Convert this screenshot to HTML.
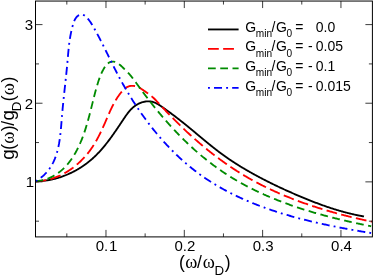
<!DOCTYPE html>
<html><head><meta charset="utf-8"><title>chart</title>
<style>html,body{margin:0;padding:0;background:#fff;}body{width:374px;height:276px;position:relative;overflow:hidden;font-family:"Liberation Sans",sans-serif;}</style>
</head><body>
<svg width="374" height="276" viewBox="0 0 374 276" style="position:absolute;left:0;top:0">
<rect width="374" height="276" fill="#ffffff"/>
<g fill="none" stroke-width="1.85" stroke-linejoin="round">
<path d="M35.50 181.30L36.16 181.29L36.82 181.28L37.47 181.26L38.13 181.24L38.79 181.21L39.45 181.18L40.10 181.14L40.76 181.09L41.41 181.04L42.07 180.98L42.72 180.92L43.38 180.85L44.03 180.78L44.68 180.70L45.33 180.62L45.98 180.53L46.64 180.43L47.29 180.33L47.93 180.23L48.58 180.12L49.23 180.00L49.88 179.88L50.52 179.76L51.17 179.63L51.81 179.49L52.45 179.35L53.09 179.20L53.73 179.05L54.37 178.89L55.01 178.73L55.65 178.57L56.28 178.40L56.92 178.22L57.55 178.04L58.18 177.85L58.81 177.66L59.44 177.47L60.07 177.26L60.69 177.06L61.32 176.85L61.94 176.63L62.56 176.42L63.18 176.19L63.80 175.96L64.42 175.73L65.03 175.49L65.65 175.25L66.26 175.00L66.87 174.75L67.47 174.49L68.08 174.23L68.68 173.97L69.29 173.70L69.89 173.42L70.48 173.14L71.08 172.86L71.67 172.57L72.27 172.28L72.86 171.99L73.44 171.69L74.03 171.38L74.61 171.07L75.19 170.76L75.77 170.44L76.35 170.12L76.92 169.80L77.50 169.47L78.06 169.13L78.63 168.80L79.20 168.46L79.76 168.11L80.32 167.76L80.87 167.41L81.43 167.05L81.98 166.69L82.53 166.32L83.07 165.95L83.62 165.58L84.16 165.20L84.70 164.82L85.23 164.44L85.76 164.05L86.29 163.66L86.82 163.27L87.34 162.87L87.86 162.46L88.38 162.06L88.89 161.65L89.40 161.23L89.91 160.82L90.41 160.40L90.92 159.97L91.41 159.55L91.91 159.11L92.40 158.68L92.89 158.24L93.37 157.80L93.85 157.36L94.33 156.91L94.81 156.46L95.28 156.01L95.75 155.55L96.22 155.09L96.68 154.63L97.14 154.16L97.60 153.69L98.05 153.22L98.51 152.75L98.96 152.27L99.40 151.79L99.85 151.31L100.29 150.82L100.73 150.34L101.17 149.85L101.60 149.35L102.03 148.86L102.46 148.36L102.89 147.86L103.31 147.36L103.74 146.86L104.16 146.35L104.58 145.84L104.99 145.33L105.41 144.82L105.82 144.30L106.23 143.79L106.64 143.27L107.05 142.75L107.45 142.23L107.85 141.71L108.26 141.18L108.66 140.65L109.05 140.13L109.45 139.60L109.85 139.07L110.24 138.53L110.63 138.00L111.02 137.46L111.41 136.93L111.80 136.39L112.19 135.85L112.57 135.31L112.96 134.77L113.34 134.23L113.72 133.68L114.10 133.14L114.48 132.59L114.86 132.05L115.24 131.50L115.62 130.95L115.99 130.41L116.37 129.86L116.74 129.31L117.12 128.76L117.49 128.21L117.86 127.66L118.24 127.10L118.61 126.55L118.98 126.00L119.35 125.45L119.72 124.90L120.09 124.34L120.46 123.79L120.83 123.24L121.20 122.68L121.57 122.13L121.94 121.58L122.31 121.03L122.68 120.47L123.05 119.92L123.42 119.37L123.79 118.82L124.16 118.27L124.53 117.72L124.90 117.17L125.27 116.62L125.65 116.08L126.03 115.54L126.41 115.00L126.80 114.47L127.19 113.94L127.58 113.42L127.98 112.90L128.38 112.39L128.79 111.88L129.21 111.38L129.63 110.88L130.06 110.40L130.49 109.92L130.94 109.45L131.39 108.99L131.85 108.53L132.31 108.09L132.79 107.65L133.28 107.23L133.78 106.82L134.29 106.42L134.80 106.03L135.33 105.65L135.88 105.28L136.43 104.93L136.99 104.59L137.57 104.26L138.15 103.95L138.75 103.66L139.35 103.38L139.96 103.11L140.57 102.86L141.19 102.63L141.82 102.42L142.45 102.22L143.09 102.04L143.73 101.88L144.37 101.74L145.02 101.62L145.67 101.52L146.32 101.45L146.97 101.39L147.62 101.35L148.27 101.34L148.91 101.35L149.56 101.38L150.20 101.44L150.84 101.52L151.48 101.62L152.11 101.75L152.74 101.91L153.36 102.09L153.97 102.29L154.58 102.52L155.18 102.76L155.77 103.03L156.36 103.32L156.93 103.62L157.50 103.94L158.07 104.27L158.63 104.61L159.18 104.96L159.73 105.33L160.28 105.70L160.82 106.07L161.36 106.45L161.90 106.83L162.44 107.21L162.98 107.59L163.52 107.97L164.06 108.35L164.59 108.73L165.13 109.11L165.67 109.50L166.20 109.88L166.74 110.26L167.27 110.65L167.80 111.04L168.33 111.42L168.87 111.81L169.40 112.20L169.93 112.59L170.46 112.98L170.99 113.37L171.51 113.76L172.04 114.15L172.57 114.54L173.09 114.94L173.62 115.33L174.14 115.73L174.67 116.12L175.19 116.52L175.72 116.92L176.24 117.31L176.76 117.71L177.28 118.11L177.80 118.51L178.32 118.92L178.84 119.32L179.36 119.72L179.87 120.13L180.39 120.53L180.91 120.94L181.42 121.35L181.94 121.75L182.45 122.16L182.97 122.57L183.48 122.98L183.99 123.39L184.50 123.81L185.02 124.22L185.53 124.63L186.04 125.05L186.55 125.46L187.06 125.88L187.57 126.29L188.07 126.71L188.58 127.13L189.09 127.54L189.60 127.96L190.11 128.38L190.61 128.80L191.12 129.22L191.63 129.64L192.13 130.06L192.64 130.48L193.14 130.90L193.65 131.32L194.15 131.74L194.66 132.16L195.16 132.58L195.67 133.00L196.17 133.42L196.68 133.84L197.18 134.26L197.68 134.68L198.19 135.10L198.69 135.52L199.20 135.94L199.70 136.36L200.20 136.78L200.71 137.20L201.21 137.62L201.71 138.04L202.22 138.46L202.72 138.88L203.23 139.30L203.73 139.72L204.23 140.13L204.74 140.55L205.24 140.97L205.75 141.38L206.25 141.80L206.76 142.21L207.26 142.63L207.77 143.04L208.28 143.45L208.78 143.86L209.29 144.27L209.80 144.68L210.30 145.09L210.81 145.50L211.32 145.91L211.83 146.32L212.34 146.72L212.85 147.13L213.36 147.53L213.87 147.94L214.38 148.34L214.89 148.74L215.40 149.14L215.91 149.54L216.42 149.93L216.94 150.33L217.45 150.73L217.96 151.12L218.48 151.51L218.99 151.90L219.51 152.29L220.03 152.68L220.55 153.07L221.06 153.45L221.58 153.84L222.10 154.22L222.62 154.60L223.14 154.98L223.67 155.36L224.19 155.73L224.71 156.11L225.24 156.48L225.76 156.85L226.29 157.22L226.82 157.59L227.34 157.96L227.87 158.32L228.40 158.69L228.93 159.05L229.46 159.41L229.99 159.77L230.53 160.13L231.06 160.48L231.59 160.84L232.13 161.19L232.66 161.54L233.20 161.89L233.74 162.24L234.27 162.59L234.81 162.94L235.35 163.28L235.89 163.63L236.43 163.97L236.97 164.31L237.52 164.65L238.06 164.99L238.60 165.33L239.15 165.67L239.69 166.00L240.24 166.34L240.79 166.67L241.33 167.01L241.88 167.34L242.43 167.67L242.98 168.00L243.53 168.32L244.08 168.65L244.64 168.98L245.19 169.30L245.74 169.63L246.30 169.95L246.85 170.27L247.41 170.59L247.96 170.91L248.52 171.23L249.08 171.55L249.64 171.87L250.20 172.19L250.76 172.50L251.32 172.82L251.88 173.13L252.44 173.45L253.00 173.76L253.57 174.07L254.13 174.38L254.70 174.69L255.26 175.00L255.83 175.31L256.40 175.62L256.96 175.92L257.53 176.23L258.10 176.54L258.67 176.84L259.24 177.14L259.81 177.45L260.38 177.75L260.96 178.05L261.53 178.35L262.10 178.65L262.68 178.95L263.25 179.25L263.83 179.55L264.40 179.84L264.98 180.14L265.56 180.44L266.14 180.73L266.71 181.02L267.29 181.32L267.87 181.61L268.45 181.90L269.03 182.19L269.62 182.48L270.20 182.77L270.78 183.06L271.36 183.35L271.95 183.64L272.53 183.92L273.12 184.21L273.70 184.49L274.29 184.78L274.88 185.06L275.46 185.34L276.05 185.63L276.64 185.91L277.23 186.19L277.82 186.47L278.41 186.75L279.00 187.03L279.59 187.30L280.18 187.58L280.77 187.86L281.37 188.13L281.96 188.41L282.55 188.68L283.15 188.96L283.74 189.23L284.34 189.50L284.93 189.77L285.53 190.05L286.13 190.32L286.72 190.59L287.32 190.86L287.92 191.12L288.52 191.39L289.12 191.66L289.72 191.93L290.32 192.19L290.92 192.46L291.52 192.72L292.12 192.99L292.72 193.25L293.32 193.51L293.93 193.77L294.53 194.04L295.13 194.30L295.74 194.56L296.34 194.82L296.95 195.08L297.55 195.33L298.16 195.59L298.76 195.85L299.37 196.11L299.98 196.36L300.58 196.62L301.19 196.87L301.80 197.13L302.41 197.38L303.02 197.63L303.63 197.89L304.24 198.14L304.85 198.39L305.46 198.64L306.07 198.89L306.68 199.14L307.29 199.38L307.90 199.63L308.51 199.88L309.13 200.12L309.74 200.37L310.35 200.61L310.97 200.85L311.58 201.09L312.20 201.34L312.81 201.58L313.43 201.81L314.05 202.05L314.66 202.29L315.28 202.53L315.90 202.76L316.51 202.99L317.13 203.23L317.75 203.46L318.37 203.69L318.99 203.92L319.61 204.15L320.23 204.38L320.85 204.60L321.47 204.83L322.09 205.05L322.71 205.28L323.33 205.50L323.96 205.72L324.58 205.94L325.20 206.16L325.83 206.37L326.45 206.59L327.08 206.80L327.70 207.02L328.33 207.23L328.95 207.44L329.58 207.65L330.20 207.85L330.83 208.06L331.46 208.26L332.09 208.47L332.71 208.67L333.34 208.87L333.97 209.07L334.60 209.27L335.23 209.46L335.86 209.66L336.49 209.85L337.12 210.04L337.75 210.23L338.39 210.42L339.02 210.61L339.65 210.79L340.28 210.97L340.92 211.16L341.55 211.34L342.19 211.51L342.82 211.69L343.46 211.87L344.09 212.04L344.73 212.21L345.36 212.38L346.00 212.55L346.64 212.71L347.28 212.88L347.91 213.04L348.55 213.20L349.19 213.36L349.83 213.52L350.47 213.67L351.11 213.82L351.75 213.97L352.39 214.12L353.03 214.27L353.67 214.42L354.32 214.56L354.96 214.70L355.60 214.84L356.24 214.98L356.89 215.11L357.53 215.24L358.18 215.38L358.82 215.50L359.47 215.63L360.11 215.76L360.76 215.88L361.41 216.00L362.05 216.12L362.70 216.23L363.35 216.35L364.00 216.46" stroke="#000000"/>
<path d="M35.50 181.30L36.24 181.28L36.98 181.25L37.72 181.21L38.45 181.16L39.19 181.10L39.92 181.03L40.65 180.96L41.37 180.87L42.10 180.78L42.82 180.68L43.54 180.57L44.25 180.45L44.96 180.32L45.68 180.19L46.38 180.04L47.09 179.89L47.79 179.73L48.49 179.56L49.19 179.38L49.88 179.20L50.58 179.01L51.27 178.81L51.95 178.60L52.63 178.38L53.31 178.16L53.99 177.93L54.67 177.69L55.34 177.45L56.01 177.19L56.67 176.93L57.33 176.66L57.99 176.39L58.65 176.11L59.30 175.82L59.95 175.53L60.59 175.22L61.24 174.92L61.88 174.60L62.51 174.28L63.14 173.95L63.77 173.62L64.40 173.28L65.02 172.93L65.64 172.58L66.25 172.22L66.86 171.85L67.47 171.48L68.07 171.10L68.67 170.72L69.27 170.33L69.86 169.94L70.45 169.54L71.03 169.13L71.62 168.72L72.19 168.30L72.77 167.88L73.33 167.45L73.90 167.02L74.46 166.58L75.02 166.14L75.57 165.69L76.12 165.24L76.66 164.79L77.20 164.32L77.74 163.86L78.27 163.39L78.80 162.91L79.32 162.43L79.84 161.95L80.36 161.46L80.87 160.97L81.37 160.47L81.87 159.97L82.37 159.47L82.86 158.96L83.35 158.45L83.83 157.93L84.31 157.41L84.78 156.89L85.25 156.36L85.72 155.83L86.18 155.29L86.63 154.76L87.08 154.22L87.53 153.67L87.97 153.13L88.40 152.58L88.83 152.02L89.26 151.47L89.68 150.91L90.09 150.35L90.50 149.79L90.91 149.22L91.31 148.65L91.70 148.08L92.09 147.51L92.48 146.93L92.86 146.35L93.23 145.77L93.61 145.19L93.97 144.60L94.34 144.01L94.70 143.42L95.05 142.83L95.40 142.24L95.75 141.64L96.09 141.04L96.43 140.44L96.77 139.84L97.10 139.24L97.43 138.63L97.76 138.03L98.09 137.42L98.41 136.81L98.72 136.19L99.04 135.58L99.35 134.96L99.66 134.35L99.97 133.73L100.27 133.11L100.58 132.49L100.88 131.86L101.17 131.24L101.47 130.61L101.76 129.99L102.06 129.36L102.35 128.73L102.64 128.10L102.92 127.47L103.21 126.84L103.49 126.21L103.78 125.57L104.06 124.94L104.34 124.30L104.62 123.66L104.90 123.03L105.18 122.39L105.46 121.75L105.74 121.11L106.01 120.47L106.29 119.83L106.57 119.19L106.84 118.55L107.12 117.91L107.40 117.26L107.68 116.62L107.95 115.98L108.23 115.34L108.51 114.69L108.80 114.05L109.08 113.41L109.36 112.77L109.65 112.13L109.94 111.49L110.23 110.85L110.53 110.21L110.82 109.57L111.12 108.93L111.43 108.30L111.73 107.66L112.04 107.03L112.36 106.39L112.68 105.76L113.00 105.13L113.33 104.50L113.66 103.88L114.00 103.25L114.34 102.63L114.69 102.01L115.04 101.39L115.40 100.77L115.76 100.15L116.14 99.54L116.51 98.93L116.90 98.32L117.29 97.72L117.69 97.11L118.10 96.51L118.51 95.92L118.93 95.32L119.36 94.73L119.80 94.14L120.24 93.56L120.70 92.98L121.16 92.40L121.64 91.83L122.12 91.27L122.61 90.73L123.12 90.20L123.63 89.68L124.15 89.19L124.69 88.72L125.24 88.28L125.80 87.86L126.37 87.48L126.96 87.13L127.55 86.81L128.17 86.54L128.79 86.30L129.43 86.11L130.09 85.96L130.75 85.87L131.43 85.81L132.12 85.80L132.81 85.82L133.51 85.89L134.21 85.99L134.92 86.13L135.62 86.30L136.32 86.50L137.01 86.73L137.70 87.00L138.38 87.28L139.04 87.60L139.69 87.93L140.34 88.29L140.96 88.66L141.58 89.05L142.19 89.45L142.80 89.86L143.40 90.27L143.99 90.69L144.59 91.10L145.18 91.52L145.77 91.93L146.35 92.35L146.94 92.76L147.52 93.18L148.09 93.59L148.66 94.01L149.23 94.44L149.80 94.86L150.36 95.30L150.91 95.74L151.46 96.18L152.00 96.63L152.54 97.09L153.07 97.55L153.59 98.03L154.11 98.51L154.62 99.01L155.12 99.51L155.62 100.02L156.12 100.53L156.61 101.05L157.09 101.57L157.58 102.10L158.07 102.63L158.55 103.15L159.04 103.68L159.52 104.21L160.01 104.74L160.49 105.26L160.98 105.79L161.47 106.31L161.96 106.84L162.44 107.36L162.93 107.88L163.42 108.40L163.91 108.92L164.40 109.44L164.90 109.96L165.39 110.48L165.88 111.00L166.37 111.52L166.87 112.04L167.36 112.55L167.86 113.07L168.35 113.58L168.85 114.10L169.34 114.61L169.84 115.12L170.34 115.63L170.84 116.14L171.34 116.65L171.84 117.16L172.34 117.67L172.84 118.18L173.34 118.69L173.84 119.19L174.34 119.70L174.85 120.20L175.35 120.71L175.86 121.21L176.36 121.71L176.87 122.21L177.37 122.71L177.88 123.21L178.39 123.71L178.90 124.21L179.41 124.71L179.92 125.21L180.43 125.70L180.94 126.20L181.45 126.69L181.96 127.18L182.48 127.67L182.99 128.17L183.50 128.66L184.02 129.15L184.54 129.63L185.05 130.12L185.57 130.61L186.09 131.09L186.61 131.58L187.13 132.06L187.65 132.55L188.17 133.03L188.69 133.51L189.21 133.99L189.73 134.47L190.26 134.95L190.78 135.42L191.31 135.90L191.83 136.37L192.36 136.85L192.89 137.32L193.41 137.79L193.94 138.27L194.47 138.74L195.00 139.21L195.53 139.67L196.07 140.14L196.60 140.61L197.13 141.07L197.67 141.54L198.20 142.00L198.74 142.46L199.27 142.92L199.81 143.38L200.35 143.84L200.89 144.30L201.43 144.76L201.97 145.21L202.51 145.67L203.05 146.12L203.59 146.57L204.14 147.03L204.68 147.48L205.23 147.93L205.77 148.37L206.32 148.82L206.87 149.27L207.41 149.71L207.96 150.16L208.51 150.60L209.06 151.04L209.62 151.48L210.17 151.92L210.72 152.36L211.28 152.79L211.83 153.23L212.39 153.66L212.94 154.10L213.50 154.53L214.06 154.96L214.62 155.39L215.18 155.82L215.74 156.24L216.30 156.67L216.87 157.10L217.43 157.52L217.99 157.94L218.56 158.36L219.13 158.78L219.69 159.20L220.26 159.62L220.83 160.04L221.40 160.45L221.97 160.86L222.54 161.28L223.11 161.69L223.69 162.10L224.26 162.51L224.84 162.91L225.41 163.32L225.99 163.72L226.57 164.13L227.15 164.53L227.73 164.93L228.31 165.33L228.89 165.73L229.47 166.12L230.06 166.52L230.64 166.91L231.23 167.31L231.81 167.70L232.40 168.09L232.99 168.48L233.58 168.86L234.17 169.25L234.76 169.63L235.35 170.02L235.94 170.40L236.54 170.78L237.13 171.16L237.73 171.54L238.33 171.91L238.93 172.29L239.52 172.66L240.12 173.03L240.73 173.40L241.33 173.77L241.93 174.14L242.54 174.51L243.14 174.87L243.75 175.23L244.35 175.60L244.96 175.96L245.57 176.31L246.18 176.67L246.79 177.03L247.40 177.38L248.02 177.74L248.63 178.09L249.25 178.44L249.86 178.79L250.48 179.13L251.10 179.48L251.72 179.82L252.34 180.17L252.96 180.51L253.58 180.85L254.20 181.19L254.83 181.52L255.45 181.86L256.08 182.19L256.70 182.53L257.33 182.86L257.96 183.19L258.59 183.52L259.22 183.84L259.85 184.17L260.48 184.49L261.11 184.82L261.75 185.14L262.38 185.46L263.02 185.78L263.65 186.10L264.29 186.41L264.93 186.73L265.56 187.04L266.20 187.35L266.84 187.66L267.49 187.97L268.13 188.28L268.77 188.59L269.41 188.90L270.06 189.20L270.70 189.50L271.35 189.80L271.99 190.10L272.64 190.40L273.29 190.70L273.94 191.00L274.59 191.29L275.24 191.59L275.89 191.88L276.54 192.17L277.19 192.46L277.84 192.75L278.50 193.03L279.15 193.32L279.81 193.60L280.46 193.89L281.12 194.17L281.78 194.45L282.43 194.73L283.09 195.01L283.75 195.29L284.41 195.56L285.07 195.84L285.73 196.11L286.39 196.38L287.06 196.65L287.72 196.92L288.38 197.19L289.05 197.46L289.71 197.72L290.38 197.99L291.04 198.25L291.71 198.51L292.38 198.77L293.04 199.03L293.71 199.29L294.38 199.55L295.05 199.80L295.72 200.06L296.39 200.31L297.06 200.57L297.73 200.82L298.40 201.07L299.08 201.32L299.75 201.56L300.42 201.81L301.10 202.06L301.77 202.30L302.44 202.54L303.12 202.78L303.80 203.03L304.47 203.26L305.15 203.50L305.83 203.74L306.50 203.98L307.18 204.21L307.86 204.45L308.54 204.68L309.22 204.91L309.90 205.14L310.58 205.37L311.26 205.60L311.94 205.83L312.62 206.05L313.30 206.28L313.98 206.50L314.67 206.72L315.35 206.94L316.03 207.16L316.71 207.38L317.40 207.60L318.08 207.82L318.77 208.04L319.45 208.25L320.14 208.46L320.82 208.68L321.51 208.89L322.19 209.10L322.88 209.31L323.57 209.52L324.25 209.73L324.94 209.93L325.63 210.14L326.32 210.34L327.00 210.55L327.69 210.75L328.38 210.95L329.07 211.15L329.76 211.35L330.45 211.55L331.14 211.75L331.83 211.94L332.52 212.14L333.21 212.33L333.90 212.52L334.59 212.72L335.28 212.91L335.97 213.10L336.66 213.29L337.35 213.48L338.04 213.66L338.73 213.85L339.43 214.03L340.12 214.22L340.81 214.40L341.50 214.58L342.19 214.77L342.89 214.95L343.58 215.13L344.27 215.30L344.96 215.48L345.66 215.66L346.35 215.83L347.04 216.01L347.73 216.18L348.43 216.36L349.12 216.53L349.81 216.70L350.51 216.87L351.20 217.04L351.89 217.21L352.59 217.37L353.28 217.54L353.97 217.71L354.67 217.87L355.36 218.04L356.05 218.20L356.75 218.36L357.44 218.52L358.13 218.68L358.83 218.84L359.52 219.00L360.21 219.16L360.91 219.31L361.60 219.47L362.29 219.62L362.98 219.78L363.68 219.93L364.37 220.08L365.06 220.24L365.76 220.39L366.45 220.54L367.14 220.69L367.83 220.83L368.53 220.98L369.22 221.13L369.91 221.27L370.60 221.42L371.29 221.56L371.99 221.71" stroke="#ff0000" stroke-dasharray="10.8 4.35" stroke-dashoffset="0"/>
<path d="M35.50 181.30L36.37 181.22L37.24 181.12L38.10 181.00L38.95 180.87L39.79 180.73L40.62 180.58L41.44 180.41L42.25 180.23L43.05 180.03L43.84 179.83L44.63 179.61L45.40 179.37L46.17 179.13L46.93 178.87L47.68 178.60L48.42 178.32L49.15 178.02L49.87 177.72L50.59 177.40L51.29 177.07L51.99 176.73L52.68 176.38L53.36 176.01L54.04 175.64L54.70 175.26L55.36 174.86L56.01 174.46L56.65 174.04L57.28 173.62L57.91 173.18L58.52 172.74L59.13 172.28L59.74 171.82L60.33 171.35L60.92 170.87L61.50 170.38L62.07 169.88L62.64 169.37L63.20 168.85L63.75 168.32L64.29 167.79L64.83 167.25L65.36 166.70L65.88 166.14L66.39 165.58L66.90 165.01L67.41 164.43L67.90 163.84L68.39 163.25L68.87 162.65L69.35 162.04L69.82 161.43L70.28 160.81L70.74 160.18L71.19 159.55L71.63 158.91L72.07 158.27L72.50 157.62L72.93 156.97L73.35 156.31L73.76 155.64L74.17 154.97L74.57 154.30L74.97 153.62L75.36 152.93L75.75 152.25L76.13 151.56L76.50 150.86L76.87 150.16L77.24 149.46L77.59 148.75L77.95 148.04L78.30 147.32L78.64 146.61L78.98 145.89L79.31 145.17L79.64 144.44L79.96 143.71L80.28 142.98L80.60 142.25L80.90 141.52L81.21 140.78L81.51 140.04L81.81 139.30L82.10 138.56L82.38 137.82L82.67 137.08L82.94 136.34L83.22 135.59L83.49 134.85L83.75 134.10L84.02 133.35L84.28 132.60L84.53 131.85L84.78 131.10L85.03 130.35L85.28 129.60L85.52 128.85L85.76 128.10L85.99 127.34L86.22 126.59L86.45 125.84L86.68 125.08L86.90 124.33L87.12 123.57L87.34 122.81L87.56 122.06L87.77 121.30L87.99 120.54L88.20 119.79L88.40 119.03L88.61 118.27L88.81 117.51L89.02 116.75L89.22 115.99L89.42 115.24L89.62 114.48L89.81 113.72L90.01 112.96L90.20 112.20L90.39 111.44L90.59 110.68L90.78 109.93L90.97 109.17L91.16 108.41L91.35 107.65L91.54 106.89L91.72 106.14L91.91 105.38L92.10 104.62L92.29 103.87L92.47 103.11L92.66 102.36L92.85 101.60L93.04 100.85L93.23 100.09L93.42 99.34L93.61 98.59L93.80 97.83L93.99 97.08L94.18 96.33L94.37 95.58L94.57 94.83L94.76 94.08L94.96 93.34L95.15 92.59L95.35 91.84L95.55 91.10L95.76 90.36L95.96 89.61L96.16 88.87L96.37 88.13L96.58 87.39L96.79 86.65L97.01 85.91L97.22 85.18L97.44 84.44L97.66 83.71L97.89 82.98L98.11 82.25L98.34 81.52L98.58 80.79L98.82 80.06L99.07 79.34L99.32 78.61L99.58 77.89L99.84 77.17L100.12 76.45L100.40 75.74L100.69 75.02L100.99 74.31L101.30 73.60L101.62 72.89L101.96 72.19L102.30 71.48L102.66 70.78L103.03 70.08L103.41 69.39L103.80 68.69L104.21 68.00L104.64 67.32L105.08 66.64L105.55 65.99L106.03 65.35L106.54 64.75L107.07 64.18L107.63 63.66L108.22 63.18L108.83 62.75L109.48 62.39L110.17 62.08L110.88 61.85L111.62 61.69L112.37 61.60L113.13 61.59L113.88 61.65L114.61 61.79L115.33 62.00L116.04 62.28L116.74 62.61L117.42 63.00L118.09 63.43L118.75 63.90L119.39 64.40L120.03 64.92L120.65 65.47L121.26 66.03L121.87 66.60L122.46 67.16L123.04 67.72L123.61 68.27L124.17 68.81L124.72 69.33L125.27 69.85L125.81 70.37L126.34 70.89L126.86 71.41L127.38 71.94L127.89 72.48L128.40 73.03L128.90 73.59L129.40 74.15L129.90 74.73L130.39 75.31L130.88 75.91L131.36 76.50L131.84 77.11L132.32 77.72L132.79 78.34L133.26 78.96L133.74 79.58L134.20 80.21L134.67 80.85L135.14 81.48L135.60 82.12L136.07 82.76L136.53 83.41L136.99 84.05L137.46 84.69L137.92 85.34L138.39 85.98L138.85 86.62L139.32 87.27L139.78 87.91L140.25 88.55L140.72 89.19L141.19 89.83L141.66 90.46L142.13 91.10L142.60 91.74L143.07 92.37L143.55 93.01L144.02 93.64L144.49 94.27L144.97 94.91L145.45 95.54L145.92 96.17L146.40 96.80L146.88 97.43L147.36 98.05L147.84 98.68L148.32 99.30L148.80 99.93L149.29 100.55L149.77 101.18L150.26 101.80L150.74 102.42L151.23 103.04L151.72 103.66L152.20 104.27L152.69 104.89L153.18 105.51L153.68 106.12L154.17 106.74L154.66 107.35L155.15 107.96L155.65 108.57L156.15 109.18L156.64 109.79L157.14 110.40L157.64 111.00L158.14 111.61L158.64 112.21L159.14 112.82L159.64 113.42L160.15 114.02L160.65 114.62L161.16 115.22L161.66 115.82L162.17 116.41L162.68 117.01L163.19 117.60L163.70 118.19L164.21 118.79L164.72 119.38L165.23 119.97L165.75 120.55L166.26 121.14L166.78 121.73L167.30 122.31L167.82 122.89L168.34 123.48L168.86 124.06L169.38 124.64L169.90 125.22L170.43 125.79L170.95 126.37L171.48 126.94L172.00 127.52L172.53 128.09L173.06 128.66L173.59 129.23L174.12 129.80L174.65 130.36L175.19 130.93L175.72 131.49L176.26 132.06L176.80 132.62L177.33 133.18L177.87 133.74L178.41 134.30L178.95 134.85L179.50 135.41L180.04 135.96L180.59 136.51L181.13 137.06L181.68 137.61L182.23 138.16L182.78 138.70L183.33 139.25L183.88 139.79L184.43 140.33L184.99 140.87L185.54 141.41L186.10 141.95L186.66 142.49L187.21 143.02L187.77 143.56L188.34 144.09L188.90 144.62L189.46 145.15L190.03 145.67L190.59 146.20L191.16 146.72L191.73 147.24L192.30 147.76L192.87 148.28L193.44 148.80L194.02 149.32L194.59 149.83L195.17 150.35L195.75 150.86L196.33 151.37L196.91 151.87L197.49 152.38L198.07 152.89L198.65 153.39L199.24 153.89L199.83 154.39L200.41 154.89L201.00 155.39L201.59 155.88L202.19 156.37L202.78 156.87L203.37 157.36L203.97 157.84L204.57 158.33L205.17 158.82L205.77 159.30L206.37 159.78L206.97 160.26L207.57 160.74L208.18 161.21L208.79 161.69L209.40 162.16L210.00 162.63L210.62 163.10L211.23 163.57L211.84 164.03L212.46 164.50L213.07 164.96L213.69 165.42L214.31 165.88L214.93 166.33L215.55 166.79L216.18 167.24L216.80 167.69L217.43 168.14L218.06 168.59L218.69 169.03L219.32 169.48L219.95 169.92L220.58 170.36L221.22 170.80L221.86 171.23L222.50 171.66L223.13 172.10L223.78 172.53L224.42 172.95L225.06 173.38L225.71 173.80L226.36 174.23L227.01 174.65L227.66 175.07L228.31 175.48L228.96 175.90L229.62 176.31L230.27 176.72L230.93 177.13L231.59 177.53L232.25 177.94L232.91 178.34L233.58 178.74L234.24 179.14L234.91 179.54L235.58 179.93L236.25 180.32L236.92 180.71L237.59 181.10L238.26 181.49L238.94 181.87L239.61 182.26L240.29 182.64L240.97 183.02L241.65 183.40L242.33 183.77L243.02 184.15L243.70 184.52L244.39 184.89L245.07 185.26L245.76 185.62L246.45 185.99L247.14 186.35L247.83 186.71L248.53 187.07L249.22 187.43L249.92 187.78L250.61 188.14L251.31 188.49L252.01 188.84L252.71 189.19L253.41 189.53L254.11 189.88L254.82 190.22L255.52 190.56L256.23 190.90L256.94 191.24L257.64 191.58L258.35 191.91L259.06 192.24L259.77 192.57L260.49 192.90L261.20 193.23L261.92 193.56L262.63 193.88L263.35 194.20L264.06 194.53L264.78 194.84L265.50 195.16L266.22 195.48L266.95 195.79L267.67 196.11L268.39 196.42L269.12 196.73L269.84 197.03L270.57 197.34L271.29 197.64L272.02 197.95L272.75 198.25L273.48 198.55L274.21 198.85L274.94 199.14L275.67 199.44L276.41 199.73L277.14 200.02L277.88 200.31L278.61 200.60L279.35 200.89L280.09 201.18L280.82 201.46L281.56 201.74L282.30 202.02L283.04 202.30L283.78 202.58L284.52 202.86L285.27 203.13L286.01 203.41L286.75 203.68L287.50 203.95L288.24 204.22L288.99 204.49L289.73 204.76L290.48 205.02L291.23 205.28L291.98 205.55L292.73 205.81L293.47 206.07L294.22 206.32L294.97 206.58L295.73 206.84L296.48 207.09L297.23 207.34L297.98 207.59L298.74 207.84L299.49 208.09L300.24 208.34L301.00 208.58L301.75 208.83L302.51 209.07L303.27 209.31L304.02 209.55L304.78 209.79L305.54 210.03L306.29 210.26L307.05 210.50L307.81 210.73L308.57 210.96L309.33 211.20L310.09 211.43L310.85 211.65L311.61 211.88L312.37 212.11L313.13 212.33L313.89 212.56L314.66 212.78L315.42 213.00L316.18 213.22L316.94 213.44L317.71 213.65L318.47 213.87L319.23 214.09L320.00 214.30L320.76 214.51L321.53 214.72L322.29 214.93L323.05 215.14L323.82 215.35L324.58 215.56L325.35 215.76L326.11 215.97L326.88 216.17L327.65 216.37L328.41 216.57L329.18 216.77L329.94 216.97L330.71 217.17L331.47 217.37L332.24 217.56L333.01 217.76L333.77 217.95L334.54 218.14L335.31 218.33L336.07 218.52L336.84 218.71L337.60 218.90L338.37 219.09L339.14 219.27L339.90 219.46L340.67 219.64L341.44 219.82L342.20 220.01L342.97 220.19L343.73 220.37L344.50 220.55L345.27 220.72L346.03 220.90L346.80 221.08L347.56 221.25L348.33 221.43L349.09 221.60L349.86 221.77L350.62 221.94L351.39 222.11L352.15 222.28L352.92 222.45L353.68 222.62L354.44 222.78L355.21 222.95L355.97 223.11L356.73 223.28L357.50 223.44L358.26 223.60L359.02 223.77L359.78 223.93L360.54 224.09L361.31 224.24L362.07 224.40L362.83 224.56L363.59 224.71L364.35 224.87L365.11 225.02L365.87 225.18L366.63 225.33L367.38 225.48L368.14 225.64L368.90 225.79L369.66 225.94L370.41 226.08L371.17 226.23" stroke="#008b00" stroke-dasharray="7.75 4.5" stroke-dashoffset="0"/>
<path d="M35.50 181.30L36.40 180.77L37.28 180.23L38.13 179.67L38.96 179.10L39.78 178.52L40.57 177.93L41.34 177.33L42.08 176.71L42.81 176.09L43.52 175.45L44.21 174.81L44.88 174.15L45.53 173.48L46.17 172.80L46.78 172.12L47.38 171.42L47.96 170.71L48.52 169.99L49.06 169.27L49.59 168.53L50.10 167.79L50.59 167.03L51.07 166.27L51.54 165.50L51.98 164.72L52.42 163.93L52.83 163.14L53.24 162.34L53.63 161.53L54.01 160.71L54.37 159.88L54.72 159.05L55.05 158.21L55.38 157.36L55.69 156.51L55.99 155.65L56.28 154.79L56.56 153.92L56.83 153.04L57.08 152.16L57.33 151.27L57.56 150.38L57.79 149.48L58.01 148.57L58.21 147.67L58.41 146.75L58.60 145.83L58.78 144.91L58.96 143.99L59.12 143.06L59.28 142.12L59.44 141.18L59.58 140.24L59.72 139.30L59.85 138.35L59.98 137.40L60.10 136.45L60.22 135.49L60.33 134.54L60.44 133.58L60.55 132.61L60.65 131.65L60.74 130.68L60.84 129.72L60.93 128.75L61.01 127.78L61.10 126.81L61.18 125.84L61.26 124.86L61.34 123.89L61.42 122.92L61.50 121.95L61.58 120.97L61.65 120.00L61.73 119.03L61.81 118.06L61.89 117.08L61.97 116.11L62.05 115.14L62.13 114.18L62.22 113.21L62.30 112.24L62.39 111.28L62.48 110.32L62.56 109.35L62.65 108.39L62.75 107.43L62.84 106.47L62.93 105.52L63.03 104.56L63.12 103.60L63.22 102.65L63.32 101.70L63.41 100.74L63.51 99.79L63.61 98.84L63.71 97.89L63.81 96.94L63.91 96.00L64.01 95.05L64.11 94.11L64.21 93.16L64.32 92.22L64.42 91.28L64.52 90.34L64.62 89.40L64.73 88.46L64.83 87.52L64.93 86.58L65.03 85.65L65.13 84.71L65.24 83.78L65.34 82.85L65.44 81.91L65.54 80.98L65.64 80.05L65.74 79.12L65.84 78.20L65.94 77.27L66.04 76.34L66.13 75.42L66.23 74.49L66.33 73.57L66.42 72.65L66.52 71.72L66.61 70.80L66.70 69.88L66.79 68.96L66.88 68.05L66.97 67.13L67.06 66.21L67.15 65.30L67.23 64.38L67.32 63.47L67.40 62.55L67.48 61.64L67.56 60.73L67.64 59.82L67.71 58.91L67.79 58.00L67.87 57.09L67.95 56.18L68.03 55.27L68.11 54.36L68.19 53.45L68.27 52.54L68.35 51.63L68.44 50.72L68.53 49.80L68.62 48.89L68.71 47.98L68.81 47.06L68.91 46.14L69.02 45.23L69.13 44.31L69.25 43.38L69.37 42.46L69.49 41.54L69.62 40.61L69.76 39.68L69.90 38.75L70.06 37.82L70.21 36.88L70.38 35.94L70.55 35.00L70.73 34.05L70.92 33.11L71.11 32.15L71.32 31.20L71.54 30.24L71.76 29.28L71.99 28.32L72.24 27.35L72.49 26.38L72.76 25.40L73.04 24.42L73.34 23.46L73.66 22.50L74.00 21.57L74.37 20.66L74.78 19.79L75.23 18.96L75.71 18.17L76.24 17.44L76.82 16.77L77.46 16.16L78.15 15.63L78.90 15.18L79.69 14.83L80.52 14.60L81.35 14.50L82.18 14.55L82.98 14.76L83.77 15.11L84.53 15.57L85.28 16.13L86.00 16.77L86.69 17.46L87.36 18.19L88.01 18.94L88.63 19.70L89.24 20.48L89.82 21.27L90.38 22.07L90.93 22.88L91.46 23.69L91.97 24.52L92.48 25.35L92.97 26.19L93.45 27.03L93.93 27.87L94.40 28.71L94.87 29.55L95.33 30.40L95.79 31.24L96.24 32.08L96.70 32.92L97.15 33.75L97.59 34.59L98.04 35.43L98.48 36.26L98.92 37.10L99.35 37.93L99.78 38.76L100.21 39.59L100.64 40.43L101.07 41.26L101.49 42.09L101.91 42.92L102.33 43.74L102.75 44.57L103.17 45.40L103.58 46.22L104.00 47.05L104.41 47.87L104.82 48.70L105.23 49.52L105.64 50.34L106.04 51.17L106.45 51.99L106.86 52.81L107.26 53.63L107.66 54.45L108.07 55.27L108.47 56.08L108.88 56.90L109.28 57.72L109.68 58.54L110.08 59.35L110.49 60.17L110.89 60.98L111.30 61.80L111.70 62.61L112.10 63.43L112.51 64.24L112.92 65.05L113.32 65.86L113.73 66.68L114.14 67.49L114.55 68.30L114.96 69.11L115.37 69.92L115.79 70.73L116.20 71.54L116.62 72.35L117.04 73.16L117.46 73.97L117.89 74.78L118.31 75.59L118.74 76.39L119.17 77.20L119.60 78.01L120.03 78.82L120.47 79.62L120.91 80.43L121.35 81.24L121.80 82.04L122.24 82.85L122.69 83.65L123.14 84.46L123.60 85.26L124.05 86.07L124.51 86.87L124.97 87.67L125.44 88.47L125.90 89.28L126.37 90.08L126.84 90.88L127.31 91.68L127.79 92.48L128.27 93.27L128.75 94.07L129.23 94.87L129.72 95.67L130.20 96.46L130.69 97.26L131.19 98.05L131.68 98.84L132.18 99.63L132.68 100.42L133.18 101.21L133.69 102.00L134.19 102.79L134.70 103.58L135.21 104.37L135.73 105.15L136.24 105.93L136.76 106.72L137.29 107.50L137.81 108.28L138.34 109.06L138.86 109.84L139.40 110.61L139.93 111.39L140.47 112.16L141.00 112.94L141.55 113.71L142.09 114.48L142.63 115.25L143.18 116.02L143.73 116.78L144.29 117.55L144.84 118.31L145.40 119.07L145.96 119.83L146.52 120.59L147.09 121.35L147.66 122.10L148.23 122.86L148.80 123.61L149.37 124.36L149.95 125.11L150.53 125.86L151.11 126.60L151.70 127.34L152.29 128.09L152.88 128.83L153.47 129.57L154.06 130.30L154.66 131.04L155.26 131.77L155.86 132.50L156.47 133.23L157.07 133.95L157.68 134.68L158.29 135.40L158.91 136.12L159.52 136.84L160.14 137.56L160.76 138.27L161.39 138.98L162.01 139.69L162.64 140.40L163.27 141.11L163.91 141.81L164.54 142.51L165.18 143.21L165.82 143.91L166.47 144.60L167.11 145.29L167.76 145.98L168.41 146.67L169.07 147.35L169.72 148.03L170.38 148.71L171.04 149.39L171.70 150.07L172.37 150.74L173.04 151.41L173.71 152.07L174.38 152.74L175.06 153.40L175.74 154.06L176.42 154.71L177.10 155.37L177.78 156.02L178.47 156.66L179.16 157.31L179.85 157.95L180.55 158.59L181.25 159.23L181.95 159.86L182.65 160.49L183.36 161.12L184.06 161.74L184.77 162.36L185.48 162.98L186.20 163.60L186.92 164.21L187.64 164.82L188.36 165.43L189.08 166.03L189.81 166.63L190.54 167.23L191.27 167.82L192.01 168.41L192.75 169.00L193.48 169.58L194.23 170.16L194.97 170.74L195.72 171.31L196.47 171.88L197.22 172.45L197.97 173.01L198.73 173.57L199.49 174.13L200.25 174.68L201.02 175.23L201.78 175.78L202.55 176.32L203.32 176.86L204.10 177.39L204.88 177.92L205.65 178.45L206.43 178.98L207.22 179.50L208.00 180.02L208.79 180.53L209.58 181.05L210.38 181.55L211.17 182.06L211.97 182.56L212.77 183.06L213.57 183.55L214.37 184.05L215.18 184.53L215.99 185.02L216.80 185.50L217.61 185.98L218.42 186.46L219.24 186.93L220.06 187.40L220.88 187.87L221.70 188.33L222.52 188.79L223.35 189.24L224.18 189.70L225.01 190.15L225.84 190.60L226.67 191.04L227.51 191.48L228.35 191.92L229.19 192.36L230.03 192.79L230.87 193.22L231.72 193.65L232.56 194.07L233.41 194.49L234.26 194.91L235.11 195.32L235.97 195.74L236.82 196.14L237.68 196.55L238.54 196.95L239.40 197.36L240.26 197.75L241.12 198.15L241.99 198.54L242.85 198.93L243.72 199.32L244.59 199.70L245.46 200.08L246.34 200.46L247.21 200.84L248.09 201.21L248.96 201.58L249.84 201.95L250.72 202.31L251.60 202.68L252.48 203.04L253.37 203.39L254.25 203.75L255.14 204.10L256.03 204.45L256.92 204.80L257.81 205.14L258.70 205.49L259.59 205.83L260.48 206.16L261.38 206.50L262.28 206.83L263.17 207.16L264.07 207.49L264.97 207.81L265.87 208.14L266.77 208.46L267.68 208.77L268.58 209.09L269.49 209.40L270.39 209.72L271.30 210.02L272.21 210.33L273.11 210.64L274.02 210.94L274.93 211.24L275.85 211.53L276.76 211.83L277.67 212.12L278.59 212.41L279.50 212.70L280.42 212.99L281.33 213.27L282.25 213.56L283.17 213.84L284.09 214.12L285.01 214.39L285.93 214.67L286.85 214.94L287.77 215.21L288.69 215.48L289.61 215.74L290.54 216.01L291.46 216.27L292.38 216.53L293.31 216.79L294.23 217.04L295.16 217.30L296.09 217.55L297.01 217.80L297.94 218.05L298.87 218.30L299.80 218.54L300.73 218.79L301.66 219.03L302.58 219.27L303.51 219.50L304.44 219.74L305.38 219.97L306.31 220.21L307.24 220.44L308.17 220.67L309.10 220.90L310.03 221.12L310.96 221.35L311.90 221.57L312.83 221.79L313.76 222.01L314.69 222.23L315.63 222.44L316.56 222.66L317.49 222.87L318.42 223.08L319.36 223.29L320.29 223.50L321.22 223.71L322.16 223.91L323.09 224.12L324.02 224.32L324.96 224.52L325.89 224.72L326.82 224.92L327.75 225.12L328.69 225.31L329.62 225.50L330.55 225.70L331.48 225.89L332.41 226.08L333.35 226.27L334.28 226.46L335.21 226.64L336.14 226.83L337.07 227.01L338.00 227.19L338.93 227.37L339.86 227.56L340.79 227.73L341.72 227.91L342.65 228.09L343.57 228.26L344.50 228.44L345.43 228.61L346.36 228.78L347.28 228.96L348.21 229.13L349.13 229.29L350.06 229.46L350.98 229.63L351.90 229.79L352.83 229.96L353.75 230.12L354.67 230.29L355.59 230.45L356.51 230.61L357.43 230.77L358.35 230.93L359.27 231.09L360.18 231.25L361.10 231.40L362.02 231.56L362.93 231.71L363.85 231.87L364.76 232.02L365.67 232.17L366.58 232.32L367.49 232.48L368.40 232.63L369.31 232.78L370.22 232.92L371.13 233.07" stroke="#0000ff" stroke-dasharray="1.9 4.12 8.0 4.12" stroke-dashoffset="-0.3"/>
</g>
<path d="M66.82 236.90v-3.50M66.82 1.05v3.50M105.98 236.90v-7.00M105.98 1.05v7.00M145.14 236.90v-3.50M145.14 1.05v3.50M184.30 236.90v-7.00M184.30 1.05v7.00M223.46 236.90v-3.50M223.46 1.05v3.50M262.62 236.90v-7.00M262.62 1.05v7.00M301.78 236.90v-3.50M301.78 1.05v3.50M340.94 236.90v-7.00M340.94 1.05v7.00M35.50 221.18h3.50M372.40 221.18h-3.50M35.50 181.86h7.00M372.40 181.86h-7.00M35.50 142.55h3.50M372.40 142.55h-3.50M35.50 103.23h7.00M372.40 103.23h-7.00M35.50 63.92h3.50M372.40 63.92h-3.50M35.50 24.60h7.00M372.40 24.60h-7.00" stroke="#1a1a1a" stroke-width="0.85" fill="none"/>
<rect x="35.50" y="1.05" width="336.90" height="235.85" fill="none" stroke="#000" stroke-width="1"/>
<g fill="none" stroke-width="1.85">
<path d="M208 29.45H238.6" stroke="#000000"/>
<path d="M208 48.90H238.2" stroke="#ff0000" stroke-dasharray="10.8 4.35"/>
<path d="M208 68.35H238.6" stroke="#008b00" stroke-dasharray="7.75 4.5"/>
<path d="M208 87.90H238.6" stroke="#0000ff" stroke-dasharray="1.9 4.12 8.0 4.12"/>
</g>
<g font-family="Liberation Sans, sans-serif" fill="#000" style="filter:grayscale(1)">
<text x="106.58" y="250.9" font-size="15" text-anchor="middle">0.<tspan dx="0.9">1</tspan></text>
<text x="184.90" y="250.9" font-size="15" text-anchor="middle">0.2</text>
<text x="263.22" y="250.9" font-size="15" text-anchor="middle">0.3</text>
<text x="341.54" y="250.9" font-size="15" text-anchor="middle">0.4</text>
<text x="34.0" y="187.46" font-size="15" text-anchor="end">1</text>
<text x="33.0" y="108.83" font-size="15" text-anchor="end">2</text>
<text x="33.0" y="30.20" font-size="15" text-anchor="end">3</text>
<text x="245.30" y="31.75" font-size="14">G</text>
<text x="255.80" y="37.05" font-size="10.1">min</text>
<text x="271.40" y="31.75" font-size="14">/</text>
<text x="275.90" y="31.75" font-size="14">G</text>
<text x="286.50" y="37.05" font-size="10.1">0</text>
<text x="295.20" y="31.75" font-size="14">=</text>
<text x="315.80" y="31.75" font-size="14">0.0</text>
<text x="245.30" y="51.20" font-size="14">G</text>
<text x="255.80" y="56.50" font-size="10.1">min</text>
<text x="271.40" y="51.20" font-size="14">/</text>
<text x="275.90" y="51.20" font-size="14">G</text>
<text x="286.50" y="56.50" font-size="10.1">0</text>
<text x="295.20" y="51.20" font-size="14">=</text>
<text x="307.90" y="51.20" font-size="14">-</text>
<text x="315.80" y="51.20" font-size="14">0.05</text>
<text x="245.30" y="70.65" font-size="14">G</text>
<text x="255.80" y="75.95" font-size="10.1">min</text>
<text x="271.40" y="70.65" font-size="14">/</text>
<text x="275.90" y="70.65" font-size="14">G</text>
<text x="286.50" y="75.95" font-size="10.1">0</text>
<text x="295.20" y="70.65" font-size="14">=</text>
<text x="307.90" y="70.65" font-size="14">-</text>
<text x="315.80" y="70.65" font-size="14">0.1</text>
<text x="245.30" y="91.10" font-size="14">G</text>
<text x="255.80" y="96.40" font-size="10.1">min</text>
<text x="271.40" y="91.10" font-size="14">/</text>
<text x="275.90" y="91.10" font-size="14">G</text>
<text x="286.50" y="96.40" font-size="10.1">0</text>
<text x="295.20" y="91.10" font-size="14">=</text>
<text x="307.90" y="91.10" font-size="14">-</text>
<text x="315.80" y="91.10" font-size="14">0.015</text>
<text x="178.90" y="267.80" font-size="17.5">(</text>
<text x="185.20" y="267.70" font-size="18.4" font-family="Liberation Serif, serif">ω</text>
<text x="197.12" y="267.90" font-size="17.5">/</text>
<text x="202.75" y="267.70" font-size="18.4" font-family="Liberation Serif, serif">ω</text>
<text x="214.57" y="274.80" font-size="13.3">D</text>
<text x="224.68" y="267.80" font-size="17.5">)</text>
<text transform="translate(14.20 82.57) rotate(-90)" font-size="17.5">)</text>
<text transform="translate(14.20 95.30) rotate(-90)" font-size="18.4" font-family="Liberation Serif, serif">ω</text>
<text transform="translate(14.20 101.30) rotate(-90)" font-size="17.5">(</text>
<text transform="translate(21.20 111.33) rotate(-90)" font-size="13.3">D</text>
<text transform="translate(14.20 120.57) rotate(-90)" font-size="18.8">g</text>
<text transform="translate(14.20 125.83) rotate(-90)" font-size="17.5">/</text>
<text transform="translate(14.20 131.32) rotate(-90)" font-size="17.5">)</text>
<text transform="translate(14.20 143.80) rotate(-90)" font-size="18.4" font-family="Liberation Serif, serif">ω</text>
<text transform="translate(14.20 149.85) rotate(-90)" font-size="17.5">(</text>
<text transform="translate(14.20 159.72) rotate(-90)" font-size="18.8">g</text>
</g>
</svg>
</body></html>
